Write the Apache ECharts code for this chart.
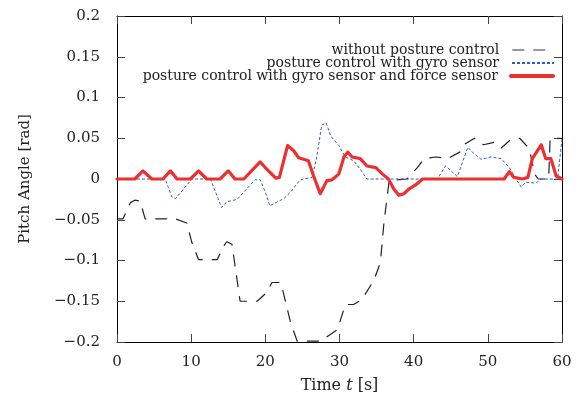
<!DOCTYPE html>
<html>
<head>
<meta charset="utf-8">
<script src="https://cdn.jsdelivr.net/npm/echarts@6/dist/echarts.min.js"></script>
<style>
  html, body { margin: 0; padding: 0; background: #fff; }
  #chart { width: 581px; height: 398px; }
</style>
</head>
<body>
<div id="chart"></div>
<script>
// time [s] and pitch angle [rad]
const noCtrlT = [0, 0.8, 1.8, 2.4, 3.1, 3.8, 6.5, 7.6, 9.4, 10.1, 11.0, 13.5, 14.4, 14.8, 15.5, 16.6, 18.9, 20.2, 20.9, 22.1, 23.4, 24.3, 27.4, 29.7, 30.8, 31.9, 33.0, 34.6, 35.5, 36.0, 36.7, 39.1, 40.5, 41.4, 43.0, 44.6, 46.2, 46.9, 48.2, 49.4, 50.9, 51.8, 52.9, 54.3, 55.6, 56.3, 56.8, 58.2, 58.4, 60]
const noCtrlV = [-0.049, -0.049, -0.029, -0.026, -0.027, -0.049, -0.049, -0.048, -0.054, -0.078, -0.099, -0.099, -0.082, -0.077, -0.080, -0.150, -0.150, -0.139, -0.127, -0.127, -0.176, -0.199, -0.199, -0.185, -0.154, -0.154, -0.148, -0.125, -0.103, -0.053, -0.002, 0, 0.014, 0.025, 0.027, 0.025, 0.033, 0.043, 0.050, 0.042, 0.045, 0.038, 0.047, 0.050, 0.037, 0.006, 0, 0, 0.050, 0.050]

const gyroT = [0, 6.5, 7.4, 7.9, 10.1, 12.6, 14.1, 14.8, 16.2, 17.5, 18.6, 19.3, 20.0, 20.6, 21.4, 22.5, 23.4, 24.7, 26.3, 26.9, 27.6, 28.2, 28.8, 29.9, 30.8, 31.9, 32.8, 33.7, 43.2, 44.3, 45.9, 47.3, 47.9, 49.1, 50.4, 51.8, 52.9, 53.8, 54.5, 55.1, 56.5, 57.2, 59.4, 60]
const gyroV = [0, 0, -0.022, -0.024, 0, 0, -0.035, -0.028, -0.025, -0.012, -0.001, -0.001, -0.016, -0.033, -0.029, -0.024, -0.016, -0.001, 0.002, 0.025, 0.066, 0.069, 0.053, 0.041, 0.027, 0.0225, 0.012, 0, 0, 0.016, 0.003, 0.039, 0.033, 0.024, 0.027, 0.025, 0.014, 0, -0.010, -0.004, -0.005, 0, 0, 0.049]

const forceT = [0, 2.4, 3.5, 4.7, 6.2, 7.2, 8.1, 9.9, 11.0, 12.1, 13.9, 15.0, 15.9, 17.1, 19.3, 20.2, 21.4, 21.9, 23.0, 23.8, 24.5, 25.8, 26.5, 27.4, 28.3, 29.0, 29.9, 30.6, 31.1, 31.7, 32.8, 33.7, 34.9, 35.8, 36.6, 37.3, 38.0, 38.7, 39.4, 40.3, 41.2, 52.2, 52.9, 53.5, 54.7, 55.4, 56.0, 57.2, 57.8, 58.5, 59.2, 60]
const forceV = [0, 0, 0.010, 0, 0, 0.010, 0, 0, 0.010, 0, 0, 0.010, 0, 0, 0.021, 0.012, 0.001, 0.002, 0.041, 0.035, 0.026, 0.0225, 0.004, -0.018, -0.002, -0.001, 0.006, 0.027, 0.033, 0.027, 0.025, 0.016, 0.014, 0.006, 0, -0.012, -0.020, -0.018, -0.012, -0.007, 0, 0, 0.009, 0.002, 0, 0.002, 0.025, 0.042, 0.025, 0.025, 0.004, 0]

const names = ['without posture control', 'posture control with gyro sensor', 'posture control with gyro sensor and force sensor']

const zip = (t, v) => t.map((x, i) => [x, v[i]])
const font = 'DejaVu Serif'
const minus = (v) => String(v).replace('-', '\u2212')

const chart = echarts.init(document.getElementById('chart'))

const frameX = (pos) => ({
  type: 'value', position: pos, min: 0, max: 60, interval: 10,
  axisLine: { show: true, onZero: false, lineStyle: { color: '#000', width: 1 } },
  axisTick: { show: true, inside: true, length: 8, lineStyle: { color: '#444' } },
  axisLabel: { show: pos === 'bottom', margin: 13, fontFamily: font, fontSize: 15, color: '#222' },
  splitLine: { show: false },
})
const frameY = (pos) => ({
  type: 'value', position: pos, min: -0.2, max: 0.2, interval: 0.05,
  axisLine: { show: true, onZero: false, lineStyle: { color: '#000', width: 1 } },
  axisTick: { show: true, inside: true, length: 8, lineStyle: { color: '#444' } },
  axisLabel: { show: pos === 'left', margin: 17, fontFamily: font, fontSize: 15, color: '#222', formatter: minus },
  splitLine: { show: false },
})

const legendAt = (name, top, line) => ({
  data: [name], orient: 'horizontal', right: 26, top: top, align: 'right',
  padding: 0, itemWidth: 42, itemHeight: 10, selectedMode: false,
  itemStyle: { opacity: 0 },
  lineStyle: line,
  textStyle: { fontFamily: font, fontSize: 14, color: '#222', lineHeight: 13, padding: [0, 8, 0, 0] },
})

const option = {
  animation: false,
  grid: { left: 117, top: 16, right: 19, bottom: 56, outerBoundsMode: 'none' },
  xAxis: [
    Object.assign(frameX('bottom'), {
      name: '{n|Time }{i|t}{n| [s]}', nameLocation: 'middle', nameGap: 36,
      nameTextStyle: { rich: {
        n: { fontFamily: font, fontSize: 16, color: '#222' },
        i: { fontFamily: font, fontSize: 16, fontStyle: 'italic', color: '#222' },
      } },
    }),
    frameX('top'),
  ],
  yAxis: [
    Object.assign(frameY('left'), {
      name: 'Pitch Angle [rad]', nameLocation: 'middle', nameGap: 84,
      nameTextStyle: { fontFamily: font, fontSize: 15, color: '#222' },
    }),
    frameY('right'),
  ],
  legend: [
    legendAt(names[0], 43, { color: '#777', width: 1.5 }),
    legendAt(names[1], 56, {}),
    legendAt(names[2], 69, { width: 4 }),
  ],
  series: [
    {
      name: names[0], type: 'line', showSymbol: false, symbol: 'none',
      data: zip(noCtrlT, noCtrlV), color: '#222',
      lineStyle: { color: '#222', width: 1.2, type: [12, 9] },
    },
    {
      name: names[1], type: 'line', showSymbol: false, symbol: 'none',
      data: zip(gyroT, gyroV), color: '#2c5fc2',
      lineStyle: { color: '#2c5fc2', width: 1, type: [3, 2] },
    },
    {
      name: names[2], type: 'line', showSymbol: false, symbol: 'none',
      data: zip(forceT, forceV), color: '#ec2f2f',
      lineStyle: { color: '#ec2f2f', width: 3.2, join: 'round', cap: 'round' },
    },
  ],
}

chart.setOption(option)
</script>
</body>
</html>
